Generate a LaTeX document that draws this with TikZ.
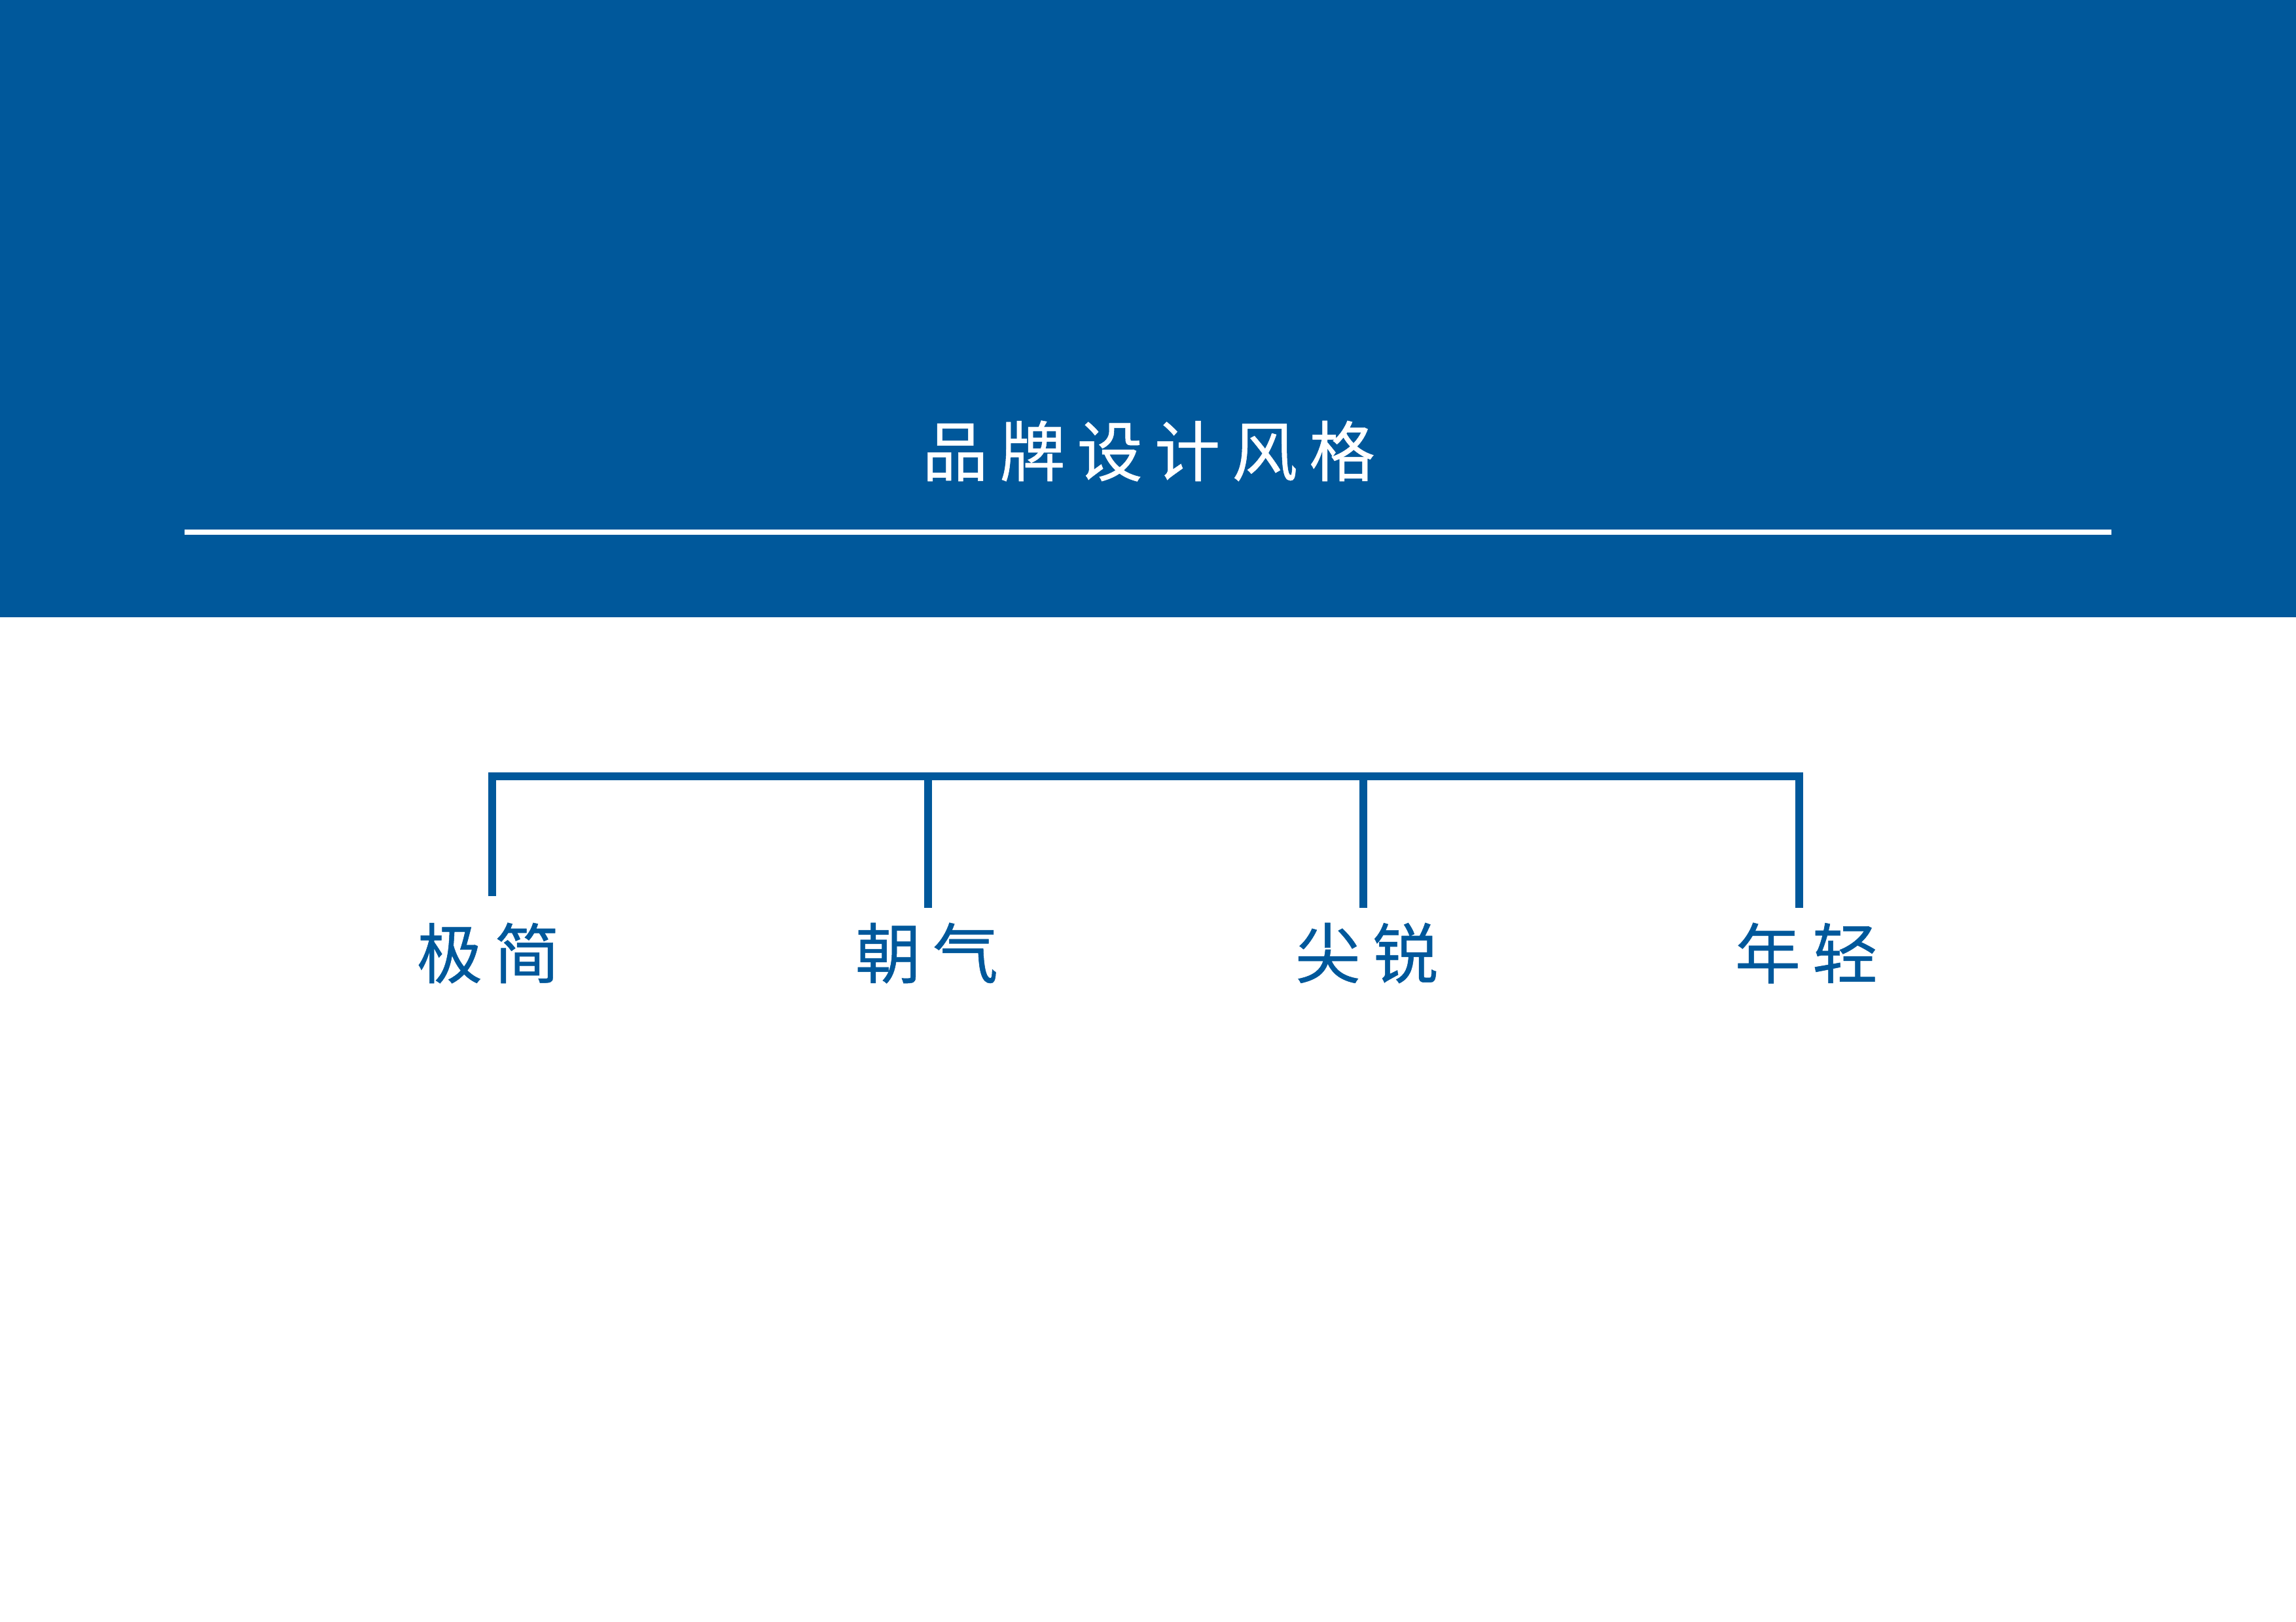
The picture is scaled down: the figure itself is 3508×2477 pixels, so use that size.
\documentclass[tikz,border=0pt]{standalone}
\usepackage{fontspec}
\newfontfamily\cjk[FakeBold=0.5]{Noto Sans CJK SC}
\definecolor{brandblue}{HTML}{00589B}
\newcommand{\gap}{\kern0.18em}
\begin{document}
\begin{tikzpicture}[x=0.01cm,y=-0.01cm,
  bracketline/.style={draw=brandblue,line width=0.12cm,line join=miter},
  titletext/.style={text=white,font=\cjk\fontsize{28.5pt}{30pt}\selectfont,inner sep=0pt,anchor=center},
  labeltext/.style={text=brandblue,font=\cjk\fontsize{28.5pt}{30pt}\selectfont,inner sep=0pt,anchor=center}]
\useasboundingbox (0,0) rectangle (3508,2477);
\fill[white] (0,0) rectangle (3508,2477);
\fill[brandblue] (0,0) rectangle (3508,943);
\coordinate (ruleL) at (282,813);
\coordinate (ruleR) at (3226,813);
\draw[white,line width=0.08cm] (ruleL) -- (ruleR);
\node[titletext] (title) at (1755,689) {品\gap 牌\gap 设\gap 计\gap 风\gap 格};
% bracket
\coordinate (t1) at (752,1186);
\coordinate (t2) at (1418,1186);
\coordinate (t3) at (2083,1186);
\coordinate (t4) at (2749,1186);
\coordinate (s1) at (752,1369);
\coordinate (s2) at (1418,1387);
\coordinate (s3) at (2083,1387);
\coordinate (s4) at (2749,1387);
\draw[bracketline] (s1) -- (t1) -- (t4) -- (s4);
\draw[bracketline] (t2) -- (s2);
\draw[bracketline] (t3) -- (s3);
\node[labeltext] (l1) at (746,1456) {极\gap 简};
\node[labeltext] (l2) at (1416,1456) {朝\gap 气};
\node[labeltext] (l3) at (2088,1456) {尖\gap 锐};
\node[labeltext] (l4) at (2760,1456) {年\gap 轻};
\end{tikzpicture}
\end{document}
